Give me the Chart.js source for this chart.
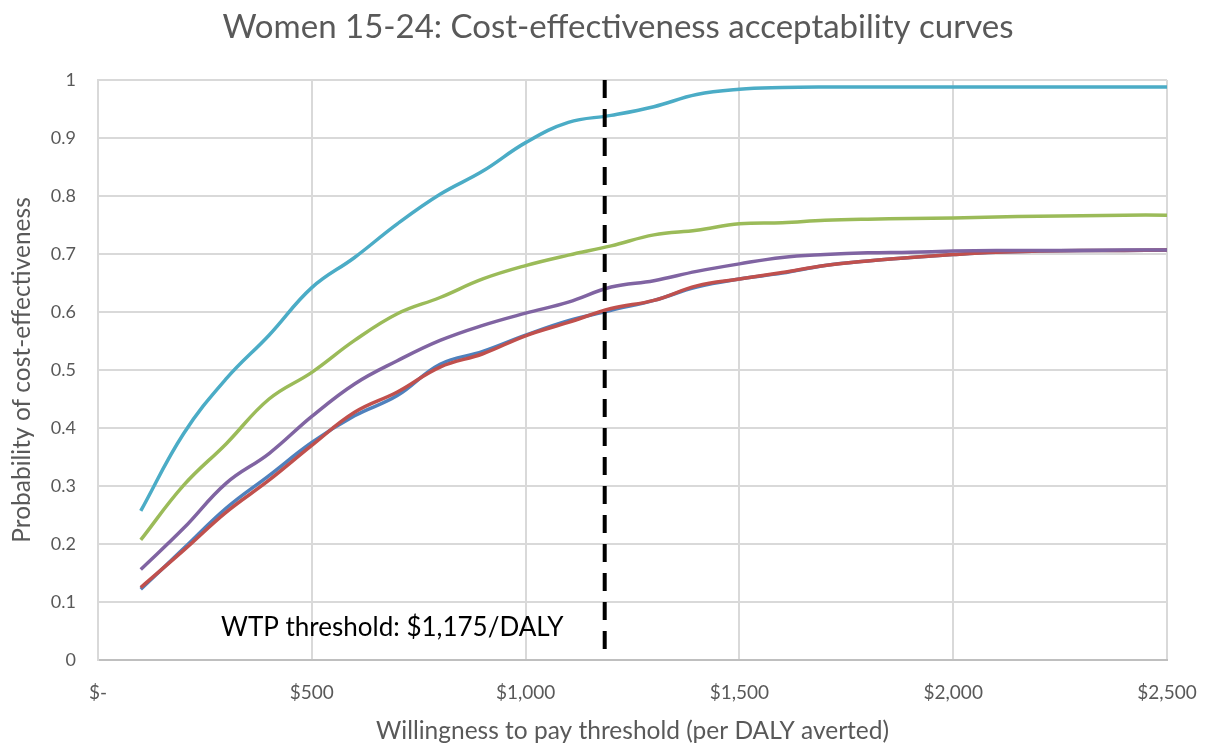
<!DOCTYPE html>
<html>
<head>
<meta charset="utf-8">
<title>Women 15-24: CEAC</title>
<script src="https://cdn.jsdelivr.net/npm/chart.js@4/dist/chart.umd.min.js"></script>
<style>
  html, body { margin: 0; padding: 0; background: #fff; }
  #wrap { width: 1221px; height: 748px; }
</style>
</head>
<body>
<div id="wrap"><canvas id="ceac" width="1221" height="748"></canvas></div>
<script>
// ---------------------------------------------------------
// Women 15-24 – cost-effectiveness acceptability curves
// ---------------------------------------------------------

// Willingness-to-pay grid ($ per DALY averted)
const wtp = [100, 200, 300, 400, 500, 600, 700, 800, 900, 1000, 1100, 1200, 1300,
  1400, 1500, 1600, 1700, 1800, 1900, 2000, 2100, 2200, 2300, 2400, 2500];

// Probability of cost-effectiveness, one list per strategy
const blueSeries = [0.122, 0.192, 0.262, 0.318, 0.375, 0.421, 0.456, 0.510, 0.532, 0.560, 0.585, 0.603,
  0.620, 0.643, 0.657, 0.667, 0.680, 0.688, 0.694, 0.699, 0.703, 0.705, 0.706, 0.706, 0.707];
const redSeries = [0.125, 0.189, 0.255, 0.310, 0.370, 0.427, 0.462, 0.505, 0.528, 0.559, 0.582, 0.606,
  0.620, 0.645, 0.657, 0.668, 0.680, 0.688, 0.694, 0.699, 0.703, 0.705, 0.706, 0.706, 0.707];
const greenSeries = [0.207, 0.301, 0.373, 0.450, 0.496, 0.551, 0.597, 0.625, 0.657, 0.680, 0.698, 0.714,
  0.733, 0.741, 0.752, 0.754, 0.758, 0.760, 0.761, 0.762, 0.764, 0.765, 0.766, 0.767, 0.767];
const purpleSeries = [0.156, 0.227, 0.305, 0.356, 0.420, 0.476, 0.516, 0.551, 0.577, 0.598, 0.617, 0.643,
  0.654, 0.670, 0.683, 0.694, 0.699, 0.702, 0.703, 0.705, 0.706, 0.706, 0.706, 0.707, 0.707];
const cyanSeries = [0.257, 0.390, 0.485, 0.560, 0.642, 0.694, 0.752, 0.803, 0.843, 0.892, 0.927, 0.939,
  0.954, 0.975, 0.984, 0.987, 0.988, 0.988, 0.988, 0.988, 0.988, 0.988, 0.988, 0.988, 0.988];

// Threshold marker
const wtpThreshold = 1185;
const wtpLabel = "WTP threshold: $1,175/DALY";
const chartTitle = "Women 15-24: Cost-effectiveness acceptability curves";

// Axis tick labels
const xTicks = [0, 500, 1000, 1500, 2000, 2500];
const xTickLabels = ["$-", "$500", "$1,000", "$1,500", "$2,000", "$2,500"];
const yTickLabels = ["0", "0.1", "0.2", "0.3", "0.4", "0.5", "0.6", "0.7", "0.8", "0.9", "1"];

const FONT = "Lato, 'Open Sans', sans-serif";
const GREY_TEXT = "#595959";

function toPoints(xs, ys) {
  return xs.map((x, i) => ({ x: x, y: ys[i] }));
}

function lineSet(label, values, color) {
  return {
    label: label,
    data: toPoints(wtp, values),
    borderColor: color,
    backgroundColor: color,
    borderWidth: 3.5,
    pointRadius: 0,
    tension: 0.4,
    fill: false
  };
}

// title (centred like the original, a bit right of the canvas centre) + threshold caption
const textPlugin = {
  id: "ceacText",
  afterDatasetsDraw(chart) {
    const ctx = chart.ctx;
    const area = chart.chartArea;
    ctx.save();
    ctx.font = "33px " + FONT;
    ctx.fillStyle = GREY_TEXT;
    ctx.textBaseline = "middle";
    ctx.textAlign = "center";
    ctx.fillText(chartTitle, 618, 27);

    ctx.font = "26px " + FONT;
    ctx.fillStyle = "#000";
    ctx.textAlign = "left";
    ctx.fillText(wtpLabel, area.left + 123, 628);
    ctx.restore();
  }
};

const datasets = [
  {
    label: "WTP threshold",
    data: [{ x: wtpThreshold, y: 1 }, { x: wtpThreshold, y: 0 }],
    borderColor: "#000",
    borderWidth: 4,
    borderDash: [18, 11],
    pointRadius: 0,
    tension: 0,
    fill: false
  },
  lineSet("Strategy 5", cyanSeries, "#4BACC6"),
  lineSet("Strategy 4", purpleSeries, "#8064A2"),
  lineSet("Strategy 3", greenSeries, "#9BBB59"),
  lineSet("Strategy 2", redSeries, "#C0504D"),
  lineSet("Strategy 1", blueSeries, "#4F81BD")
];

new Chart(document.getElementById("ceac").getContext("2d"), {
  type: "line",
  data: { datasets: datasets },
  options: {
    responsive: false,
    animation: false,
    devicePixelRatio: 1,
    layout: { padding: { left: 0, right: 54, top: 80, bottom: 0 } },
    plugins: {
      legend: { display: false },
      tooltip: { enabled: false },
      title: { display: false }
    },
    scales: {
      x: {
        type: "linear",
        min: 0,
        max: 2500,
        afterBuildTicks(scale) {
          scale.ticks = xTicks.map(v => ({ value: v }));
        },
        afterFit(scale) { scale.height = 88; },
        ticks: {
          color: GREY_TEXT,
          font: { family: FONT, size: 19 },
          padding: 21,
          maxRotation: 0,
          callback: (value, index) => xTickLabels[index]
        },
        grid: { color: "#d9d9d9", lineWidth: 2, drawTicks: false },
        border: { color: "#bfbfbf", width: 2 },
        title: {
          display: true,
          text: "Willingness to pay threshold (per DALY averted)",
          color: GREY_TEXT,
          font: { family: FONT, size: 24.5, lineHeight: 1.2 },
          padding: { top: 0, bottom: 2 }
        }
      },
      y: {
        type: "linear",
        min: 0,
        max: 1,
        ticks: {
          stepSize: 0.1,
          color: GREY_TEXT,
          font: { family: FONT, size: 18 },
          padding: 22,
          callback: (value, index) => yTickLabels[index]
        },
        afterFit(scale) { scale.width = 98; },
        grid: { color: "#d9d9d9", lineWidth: 2, drawTicks: false },
        border: { color: "#d9d9d9", width: 2 },
        title: {
          display: true,
          text: "Probability of cost-effectiveness",
          color: GREY_TEXT,
          font: { family: FONT, size: 24.5, lineHeight: 1.2 },
          padding: { top: 7, bottom: 0 }
        }
      }
    }
  },
  plugins: [textPlugin]
});
</script>
</body>
</html>
